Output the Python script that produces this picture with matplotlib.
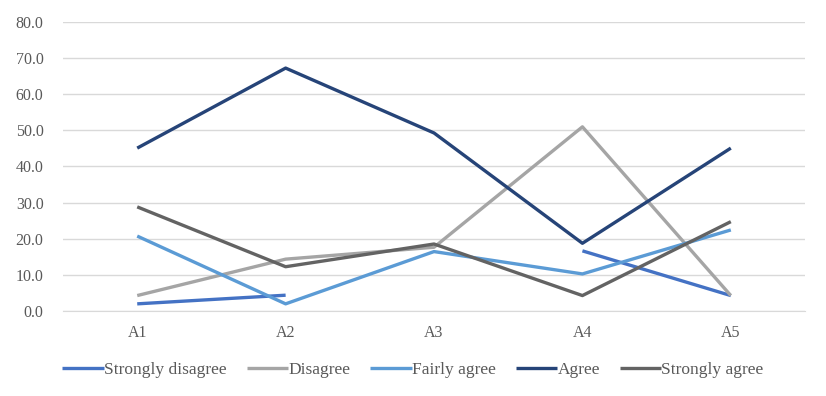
import numpy as np
import matplotlib
matplotlib.use("Agg")
import matplotlib.pyplot as plt

plt.rcParams['font.family'] = ['Liberation Serif', 'DejaVu Serif']

# categories and series values (NaN = no value)
categories = ['A1', 'A2', 'A3', 'A4', 'A5']
strongly_disagree = [1.9, 4.3, np.nan, 16.6, 4.2]
disagree = [4.2, 14.3, 17.6, 51.0, 4.2]
fairly_agree = [20.7, 1.9, 16.4, 10.2, 22.4]
agree = [45.1, 67.3, 49.3, 18.7, 45.1]
strongly_agree = [28.8, 12.2, 18.5, 4.2, 24.7]

series = [
    ('Strongly disagree', strongly_disagree, '#4472C4'),
    ('Disagree', disagree, '#A5A5A5'),
    ('Fairly agree', fairly_agree, '#5B9BD5'),
    ('Agree', agree, '#264478'),
    ('Strongly agree', strongly_agree, '#636363'),
]

fig = plt.figure(figsize=(8.26, 3.96), dpi=100)
ax = fig.add_axes([0.0763, 0.2154, 0.8983, 0.7283])

x = np.arange(len(categories))
for name, vals, col in series:
    ax.plot(x, vals, color=col, lw=2.4, label=name, solid_capstyle='butt')

ax.set_xlim(-0.5, len(categories) - 0.5)
ax.set_ylim(0, 80)
ax.set_yticks(np.arange(0, 81, 10))
ax.set_yticklabels(['%.1f' % v for v in np.arange(0, 81, 10)])
ax.set_xticks(x)
ax.set_xticklabels(categories)
ax.grid(axis='y', color='#D9D9D9', lw=1)
ax.set_axisbelow(True)
for s in ['top', 'right', 'left']:
    ax.spines[s].set_visible(False)
ax.spines['bottom'].set_color('#D9D9D9')
ax.tick_params(axis='y', length=0, labelsize=11.5, colors='#595959', pad=14)
ax.tick_params(axis='x', length=0, labelsize=11.5, colors='#595959', pad=10)

fig.legend(loc='lower center', bbox_to_anchor=(0.5, 0.005), ncol=5, frameon=False,
           fontsize=12.5, handlelength=2.4, handletextpad=0.0, columnspacing=1.15,
           labelcolor='#595959')

fig.savefig('out.png', dpi=100)
